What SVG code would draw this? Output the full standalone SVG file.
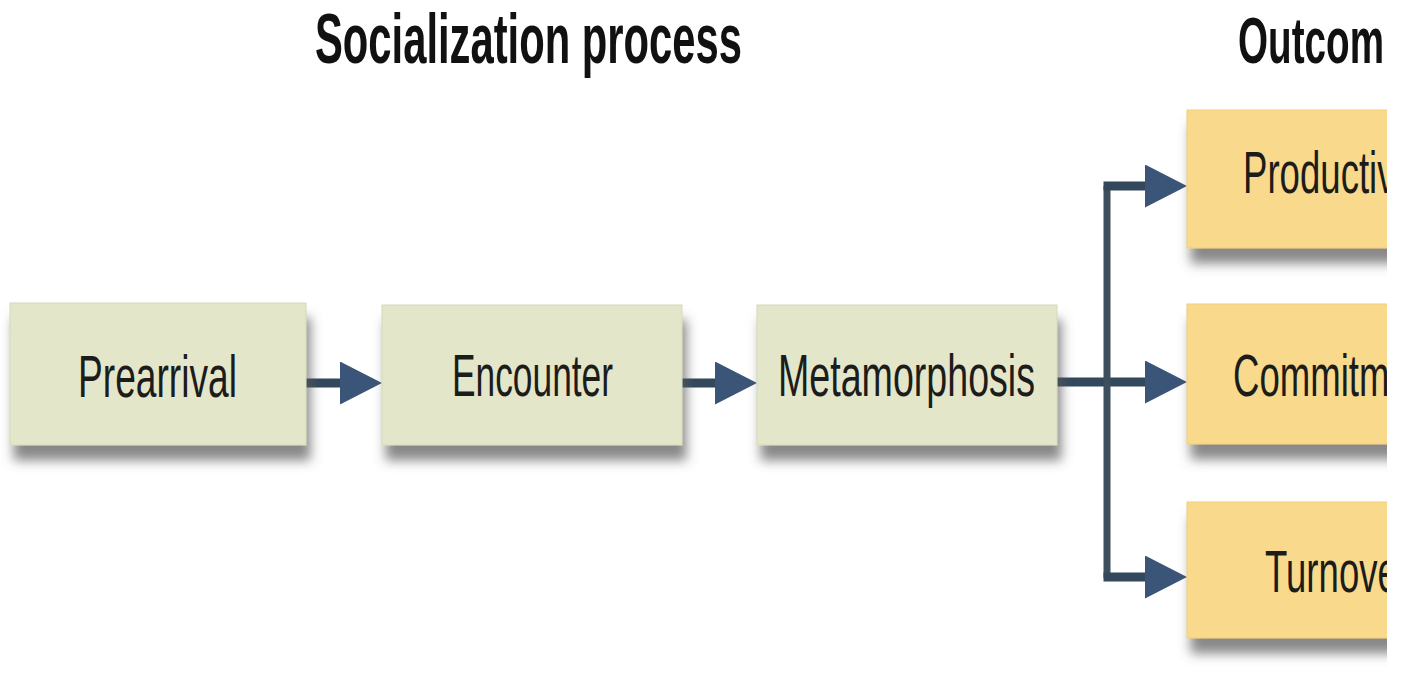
<svg xmlns="http://www.w3.org/2000/svg" width="1403" height="679" viewBox="0 0 1403 679">
  <defs>
    <filter id="boxShadow" x="-10%" y="-20%" width="125%" height="165%">
      <feGaussianBlur in="SourceAlpha" stdDeviation="6"/>
      <feOffset dx="4" dy="15" result="blur"/>
      <feFlood flood-color="#5a5a5a" flood-opacity="0.72"/>
      <feComposite in2="blur" operator="in"/>
      <feMerge>
        <feMergeNode/>
        <feMergeNode in="SourceGraphic"/>
      </feMerge>
    </filter>
    <marker id="head" markerUnits="userSpaceOnUse" markerWidth="44" markerHeight="46" refX="12" refY="21.5" orient="auto">
      <path d="M0,0 L42,21.5 L0,43 Z" fill="#3a5577"/>
    </marker>
    <clipPath id="page">
      <rect x="0" y="0" width="1387" height="679"/>
    </clipPath>
  </defs>
  <style>
    .stage { fill: #e4e6ca; stroke: #d6d8b8; stroke-width: 1; }
    .outcome { fill: #f9d98c; stroke: #efcd7e; stroke-width: 1; }
    .label { font-family: "Liberation Sans", Arial, sans-serif; font-size: 60px; fill: #1c1c1a; }
    .heading { font-family: "Liberation Sans", Arial, sans-serif; font-weight: bold; fill: #111; }
    .shaft { fill: none; stroke: #33475d; stroke-width: 9; }
    .trunk { fill: none; stroke: #3d4e5c; stroke-width: 7; }
  </style>

  <rect width="1403" height="679" fill="#ffffff"/>

  <!-- headings -->
  <text class="heading" x="315" y="63" font-size="70" textLength="427" lengthAdjust="spacingAndGlyphs">Socialization process</text>
  <text class="heading" x="1238" y="63" font-size="64" textLength="146" lengthAdjust="spacingAndGlyphs">Outcom</text>

  <g clip-path="url(#page)">
    <!-- connectors -->
    <g id="connectors">
      <path class="shaft" d="M306,383 H352" marker-end="url(#head)"/>
      <path class="shaft" d="M682,383 H727" marker-end="url(#head)"/>
      <path class="shaft" d="M1057,382 H1157" marker-end="url(#head)"/>
      <path class="trunk" d="M1107,186 V578"/>
      <path class="shaft" d="M1103.5,186 H1157" marker-end="url(#head)"/>
      <path class="shaft" d="M1103.5,577 H1157" marker-end="url(#head)"/>
    </g>

    <!-- socialization stages -->
    <g id="prearrival">
      <rect class="stage" x="10" y="303" width="296" height="142" filter="url(#boxShadow)"/>
      <text class="label" x="78" y="397" textLength="159" lengthAdjust="spacingAndGlyphs">Prearrival</text>
    </g>
    <g id="encounter">
      <rect class="stage" x="382" y="305" width="300" height="140" filter="url(#boxShadow)"/>
      <text class="label" x="452" y="396" textLength="161" lengthAdjust="spacingAndGlyphs">Encounter</text>
    </g>
    <g id="metamorphosis">
      <rect class="stage" x="757" y="305" width="300" height="140" filter="url(#boxShadow)"/>
      <text class="label" x="778" y="396" textLength="257" lengthAdjust="spacingAndGlyphs">Metamorphosis</text>
    </g>

    <!-- outcomes -->
    <g id="productivity">
      <rect class="outcome" x="1187" y="110" width="260" height="138" filter="url(#boxShadow)"/>
      <text class="label" font-size="57" transform="translate(1243,193) scale(0.61,1)">Productiv</text>
    </g>
    <g id="commitment">
      <rect class="outcome" x="1187" y="304" width="260" height="140" filter="url(#boxShadow)"/>
      <text class="label" font-size="57" transform="translate(1233,396) scale(0.61,1)">Commitm</text>
    </g>
    <g id="turnover">
      <rect class="outcome" x="1187" y="502" width="260" height="136" filter="url(#boxShadow)"/>
      <text class="label" font-size="57" transform="translate(1265,592) scale(0.61,1)">Turnove</text>
    </g>
  </g>
</svg>
